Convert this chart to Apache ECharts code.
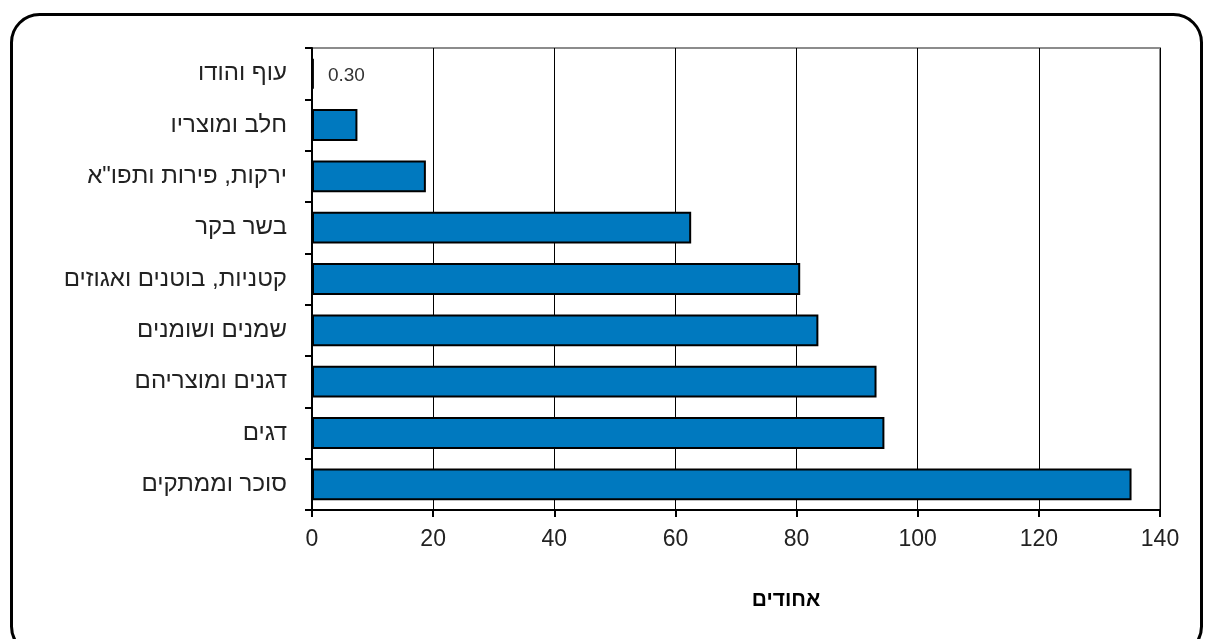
<!DOCTYPE html>
<html>
<head>
<meta charset="utf-8">
<script src="https://cdn.jsdelivr.net/npm/echarts@6/dist/echarts.min.js"></script>
<style>
  html, body { margin: 0; padding: 0; background: #fff; }
  #chart { width: 1205px; height: 639px; }
</style>
</head>
<body>
<div id="chart"></div>
<script>
// Food groups, listed top to bottom
const categories = [
  'עוף והודו',
  'חלב ומוצריו',
  'ירקות, פירות ותפו"א',
  'בשר בקר',
  'קטניות, בוטנים ואגוזים',
  'שמנים ושומנים',
  'דגנים ומוצריהם',
  'דגים',
  'סוכר וממתקים'
];
// Percent values per food group
const values = [0.30, 7.5, 18.8, 62.6, 80.6, 83.6, 93.2, 94.5, 135.3];
// Value axis ticks
const xTicks = { min: 0, max: 140, interval: 20 };
const axisTitle = 'אחודים';
// Only the smallest bar carries a printed value
const labelledIndex = 0;

const chart = echarts.init(document.getElementById('chart'), null, { renderer: 'canvas' });

const seriesData = values.map((v, i) => {
  const item = { value: v };
  if (i === labelledIndex) {
    item.label = {
      show: true,
      position: 'right',
      distance: 14,
      offset: [0, 2],
      formatter: p => Number(p.value).toFixed(2),
      color: '#333',
      fontSize: 19,
      fontFamily: 'Liberation Sans, Arial, sans-serif'
    };
  }
  return item;
});

chart.setOption({
  animation: false,
  backgroundColor: '#fff',
  grid: {
    left: 312, right: 45, top: 48, bottom: 129,
    show: true, borderColor: '#8c8c8c', borderWidth: 2, backgroundColor: 'transparent'
  },
  xAxis: {
    type: 'value',
    min: xTicks.min, max: xTicks.max, interval: xTicks.interval,
    axisLine: { show: true, lineStyle: { color: '#000', width: 2 } },
    axisTick: { show: true, length: 7, lineStyle: { color: '#000', width: 2 } },
    axisLabel: { color: '#222', fontSize: 23, margin: 18, fontFamily: 'Liberation Sans, Arial, sans-serif' },
    splitLine: { show: true, lineStyle: { color: '#000', width: 1 } }
  },
  yAxis: {
    type: 'category',
    inverse: true,
    data: categories,
    axisLine: { show: true, lineStyle: { color: '#000', width: 2 } },
    axisTick: { show: true, length: 7, alignWithLabel: false, lineStyle: { color: '#000', width: 2 } },
    axisLabel: { color: '#222', fontSize: 24, margin: 25, fontFamily: 'Liberation Sans, Arial, sans-serif' },
    splitLine: { show: false }
  },
  series: [{
    type: 'bar',
    data: seriesData,
    barWidth: '62%',
    itemStyle: { color: '#0079BF', borderColor: '#000', borderWidth: 2 },
    label: { show: false }
  }],
  graphic: [
    {
      type: 'rect',
      left: 10, top: 13,
      shape: { width: 1190, height: 640, r: 28 },
      style: { fill: 'transparent', stroke: '#000', lineWidth: 3 },
      silent: true
    },
    {
      type: 'text',
      x: 786, y: 600,
      style: {
        text: axisTitle,
        fill: '#000',
        font: 'bold 21px "Liberation Sans", Arial, sans-serif',
        textAlign: 'center',
        textVerticalAlign: 'middle'
      }
    }
  ]
});
</script>
</body>
</html>
